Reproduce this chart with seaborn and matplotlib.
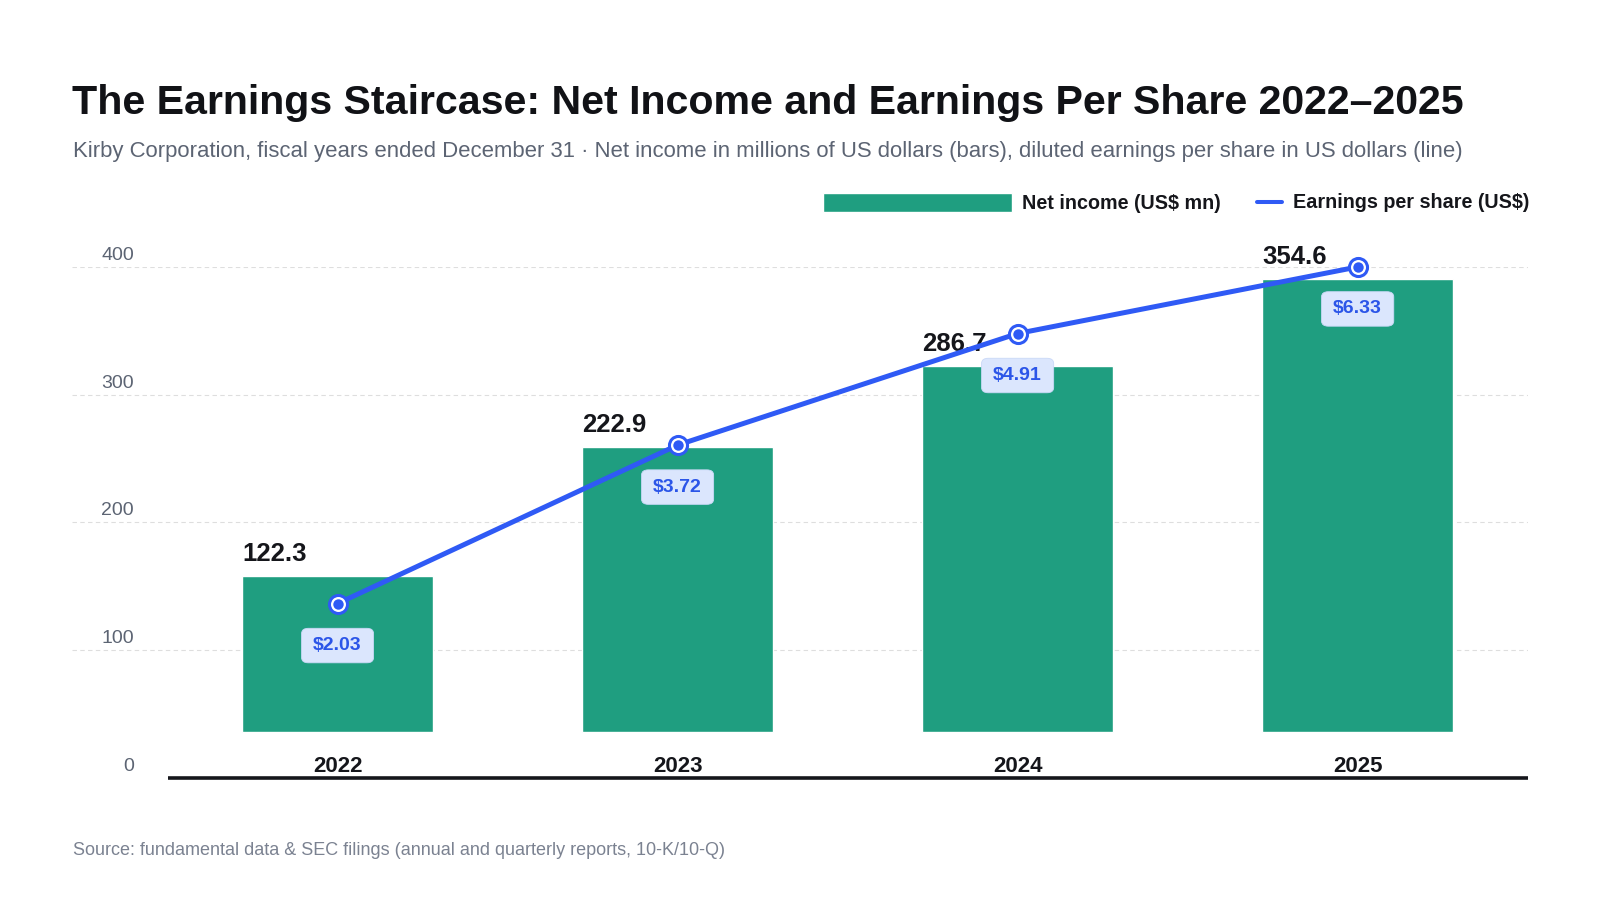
import numpy as np
import pandas as pd
import matplotlib
matplotlib.use("Agg")
import matplotlib.pyplot as plt
import seaborn as sns
from matplotlib.patches import Patch
from matplotlib.lines import Line2D

# data
years = ["2022", "2023", "2024", "2025"]
net_income = [122.3, 222.9, 286.7, 354.6]   # US$ mn
eps = [2.03, 3.72, 4.91, 6.33]               # diluted EPS, US$
y_ticks = [0, 100, 200, 300, 400]

GREEN = "#1f9e80"
BLUE = "#2f5af5"
INK = "#15161b"
GREY = "#5c6473"

sns.set_theme(style="white")
plt.rcParams["font.family"] = ["Liberation Sans", "DejaVu Sans"]

df = pd.DataFrame({"year": years, "net_income": net_income, "eps": eps})

fig = plt.figure(figsize=(16, 9), dpi=100)
ax = fig.add_axes([0.045, 0.1356, 0.91, 0.5678])

# bars float above the band that holds the year labels
bar_base = 36
bar_w = 0.56
sns.barplot(data=df, x="year", y="net_income", color=GREEN, saturation=1,
            width=bar_w, errorbar=None, bottom=bar_base, ax=ax, zorder=2)

ax.set_xlim(-0.781, len(years) - 0.499)
ax.set_ylim(0, 400)
ax.set_yticks(y_ticks[1:])
ax.set_yticklabels([])
ax.set_xticks([])
ax.set_xlabel("")
ax.set_ylabel("")
ax.tick_params(length=0)
for s in ax.spines.values():
    s.set_visible(False)
ax.yaxis.grid(True, color="#dedede", linestyle=(0, (4, 3)), linewidth=0.8)
ax.set_axisbelow(True)

# baseline under the categories
ax.hlines(0, -0.5, len(years) - 0.5, color=INK, linewidth=2.6, zorder=3,
          clip_on=False)

# y tick labels sit above their gridline
for t in y_ticks:
    ax.annotate(str(t), xy=(0.0426, t), xycoords=ax.get_yaxis_transform(),
                xytext=(0, 7), textcoords="offset pixels",
                ha="right", va="baseline", fontsize=14, color=GREY)

# year labels
for i, yr in enumerate(years):
    ax.annotate(yr, xy=(i, 0), xytext=(0, 6), textcoords="offset pixels",
                ha="center", va="baseline", fontsize=16, fontweight="bold",
                color=INK)

# net income values, left aligned on the bar edge
for i, v in enumerate(net_income):
    ax.annotate(f"{v:.1f}", xy=(i - bar_w / 2, bar_base + v), xytext=(0, 15),
                textcoords="offset pixels", ha="left", va="baseline",
                fontsize=18.5, fontweight="bold", color=INK)

# EPS line on its own scale; the top point is pinned to the axis top
ax2 = ax.twinx()
eps_lim = (0.17, 5.62)
ax2.set_ylim(*eps_lim)
eps_plot = np.minimum(df["eps"].to_numpy(), eps_lim[1])
xpos = np.arange(len(years))

sns.lineplot(x=xpos, y=eps_plot, ax=ax2, color=BLUE, linewidth=3.6,
             marker="o", markersize=13, markerfacecolor="white",
             markeredgecolor=BLUE, markeredgewidth=2.2, clip_on=False, zorder=4)
sns.scatterplot(x=xpos, y=eps_plot, ax=ax2, s=7.5 ** 2, color=BLUE,
                linewidth=0, clip_on=False, zorder=5)
ax2.set_xlim(ax.get_xlim())
ax2.set_yticks([])
ax2.set_ylabel("")
ax2.set_xlabel("")
for s in ax2.spines.values():
    s.set_visible(False)

for i, (yv, e) in enumerate(zip(eps_plot, eps)):
    ax2.annotate(f"${e:.2f}", xy=(i, yv), xytext=(0, -42),
                 textcoords="offset pixels", ha="center", va="center",
                 fontsize=14, fontweight="bold", color="#2b55e8", zorder=6,
                 bbox=dict(boxstyle="round,pad=0.6,rounding_size=0.35",
                           fc="#dbe6fd", ec="#c9d8f7", lw=0.6,
                           mutation_aspect=0.75))

# titles
fig.text(0.045, 1 - 113.5 / 900,
         "The Earnings Staircase: Net Income and Earnings Per Share 2022\u20132025",
         fontsize=29.6, fontweight="bold", color="#111216", va="baseline")
fig.text(0.0456, 1 - 157 / 900,
         "Kirby Corporation, fiscal years ended December 31 \u00b7 Net income in millions "
         "of US dollars (bars), diluted earnings per share in US dollars (line)",
         fontsize=15.95, color=GREY, va="baseline")
fig.text(0.0456, 1 - 855 / 900,
         "Source: fundamental data & SEC filings (annual and quarterly reports, 10-K/10-Q)",
         fontsize=13, color="#7b8291", va="baseline")

# legend, two pieces because the handles differ in length
leg_kw = dict(loc="center left", frameon=False, borderpad=0, borderaxespad=0,
              prop={"weight": "bold", "size": 14.2}, labelcolor=INK)
fig.legend(handles=[Patch(facecolor=GREEN, label="Net income (US$ mn)")],
           bbox_to_anchor=(822.7 / 1600, 1 - 203 / 900),
           handlelength=9.6, handleheight=1.12, handletextpad=0.5, **leg_kw)
fig.legend(handles=[Line2D([], [], color=BLUE, lw=2.9, solid_capstyle="round",
                           label="Earnings per share (US$)")],
           bbox_to_anchor=(1257 / 1600, 1 - 203 / 900),
           handlelength=1.27, handletextpad=0.55, **leg_kw)

fig.savefig("out.png", dpi=100, facecolor="white")
